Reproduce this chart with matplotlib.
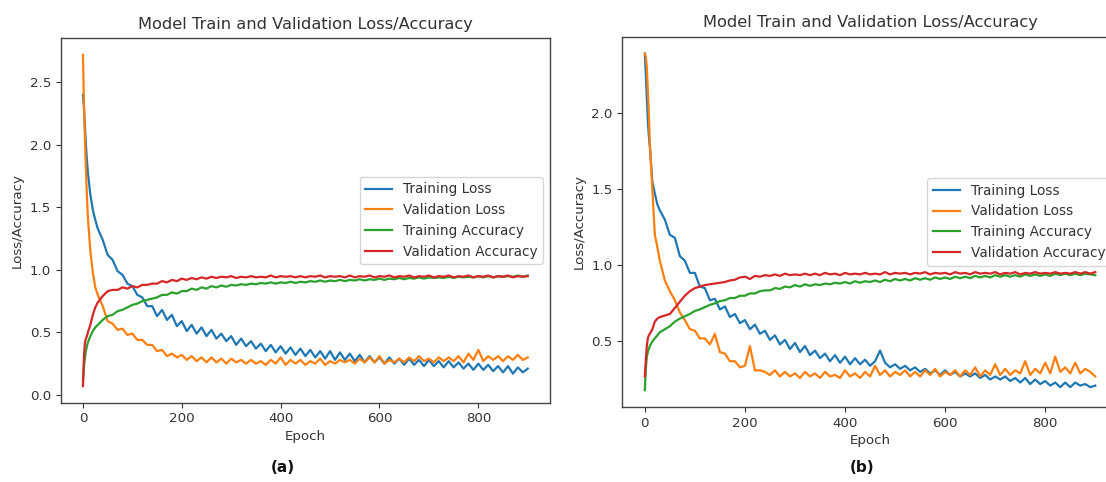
import matplotlib
matplotlib.use("Agg")
import matplotlib.pyplot as plt

# ---------------- data ----------------
epochs = [0, 2, 4, 6, 8, 10, 15, 20, 25, 30] + list(range(40, 901, 10))

a_train_loss = [2.40, 2.30, 2.15, 2.00, 1.88, 1.78, 1.60, 1.48, 1.40, 1.33,
                1.24, 1.12, 1.08, 0.99, 0.96, 0.89, 0.87, 0.80, 0.78, 0.71,
                0.71, 0.63, 0.68, 0.60, 0.64, 0.55, 0.59, 0.51, 0.56, 0.49,
                0.54, 0.47, 0.52, 0.45, 0.49, 0.43, 0.47, 0.40, 0.45, 0.39,
                0.43, 0.37, 0.41, 0.35, 0.40, 0.34, 0.39, 0.33, 0.38, 0.32,
                0.37, 0.31, 0.36, 0.30, 0.35, 0.29, 0.35, 0.28, 0.34, 0.28,
                0.33, 0.27, 0.32, 0.26, 0.31, 0.26, 0.30, 0.25, 0.30, 0.25,
                0.29, 0.24, 0.29, 0.24, 0.28, 0.23, 0.28, 0.23, 0.27, 0.22,
                0.27, 0.22, 0.26, 0.21, 0.25, 0.20, 0.25, 0.20, 0.24, 0.19,
                0.23, 0.18, 0.23, 0.17, 0.22, 0.18, 0.21]
a_val_loss = [2.72, 2.35, 2.05, 1.80, 1.60, 1.42, 1.15, 0.98, 0.86, 0.80,
              0.71, 0.59, 0.57, 0.52, 0.53, 0.48, 0.49, 0.44, 0.44, 0.40,
              0.40, 0.35, 0.36, 0.31, 0.33, 0.30, 0.32, 0.28, 0.31, 0.27,
              0.30, 0.26, 0.30, 0.26, 0.29, 0.25, 0.29, 0.26, 0.28, 0.25,
              0.28, 0.25, 0.27, 0.24, 0.28, 0.25, 0.30, 0.24, 0.28, 0.25,
              0.28, 0.24, 0.27, 0.25, 0.29, 0.24, 0.27, 0.25, 0.28, 0.26,
              0.28, 0.25, 0.29, 0.26, 0.30, 0.26, 0.31, 0.25, 0.28, 0.26,
              0.29, 0.26, 0.30, 0.27, 0.31, 0.27, 0.29, 0.26, 0.30, 0.27,
              0.30, 0.27, 0.31, 0.26, 0.33, 0.28, 0.36, 0.27, 0.31, 0.28,
              0.31, 0.27, 0.31, 0.28, 0.32, 0.28, 0.30]
a_train_acc = [0.12, 0.22, 0.30, 0.35, 0.39, 0.42, 0.47, 0.51, 0.54, 0.56,
               0.60, 0.63, 0.64, 0.67, 0.68, 0.70, 0.72, 0.73, 0.75, 0.76,
               0.77, 0.78, 0.80, 0.80, 0.82, 0.81, 0.83, 0.83, 0.85, 0.84,
               0.86, 0.85, 0.87, 0.86, 0.875, 0.865, 0.88, 0.875, 0.885, 0.88,
               0.89, 0.885, 0.895, 0.89, 0.90, 0.89, 0.90, 0.895, 0.905, 0.895,
               0.905, 0.90, 0.91, 0.905, 0.915, 0.905, 0.915, 0.91, 0.92, 0.91,
               0.92, 0.915, 0.925, 0.915, 0.925, 0.92, 0.93, 0.92, 0.93, 0.925,
               0.935, 0.925, 0.935, 0.93, 0.94, 0.93, 0.94, 0.935, 0.94, 0.935,
               0.945, 0.935, 0.945, 0.94, 0.945, 0.94, 0.95, 0.94, 0.95, 0.94,
               0.95, 0.945, 0.95, 0.945, 0.955, 0.945, 0.955]
a_val_acc = [0.07, 0.30, 0.42, 0.45, 0.47, 0.50, 0.56, 0.64, 0.70, 0.74,
             0.79, 0.83, 0.84, 0.84, 0.86, 0.85, 0.87, 0.86, 0.88, 0.88,
             0.89, 0.89, 0.91, 0.90, 0.92, 0.91, 0.93, 0.92, 0.935, 0.925,
             0.94, 0.93, 0.945, 0.935, 0.945, 0.94, 0.95, 0.935, 0.945, 0.94,
             0.95, 0.94, 0.945, 0.94, 0.955, 0.94, 0.95, 0.945, 0.95, 0.94,
             0.95, 0.94, 0.95, 0.945, 0.955, 0.94, 0.95, 0.945, 0.95, 0.94,
             0.955, 0.94, 0.95, 0.945, 0.955, 0.94, 0.95, 0.945, 0.955, 0.94,
             0.95, 0.945, 0.955, 0.94, 0.95, 0.945, 0.955, 0.94, 0.95, 0.945,
             0.955, 0.94, 0.95, 0.945, 0.955, 0.94, 0.95, 0.945, 0.955, 0.94,
             0.95, 0.945, 0.955, 0.94, 0.95, 0.945, 0.95]

b_train_loss = [2.39, 2.25, 2.10, 1.95, 1.85, 1.78, 1.55, 1.47, 1.40, 1.36,
                1.30, 1.20, 1.18, 1.06, 1.03, 0.95, 0.95, 0.86, 0.85, 0.77,
                0.78, 0.71, 0.73, 0.66, 0.68, 0.62, 0.64, 0.58, 0.61, 0.55,
                0.57, 0.51, 0.54, 0.48, 0.51, 0.45, 0.49, 0.43, 0.47, 0.41,
                0.44, 0.39, 0.42, 0.37, 0.41, 0.36, 0.40, 0.35, 0.39, 0.35,
                0.38, 0.34, 0.37, 0.44, 0.36, 0.33, 0.35, 0.32, 0.34, 0.31,
                0.33, 0.30, 0.32, 0.29, 0.31, 0.28, 0.31, 0.28, 0.30, 0.27,
                0.29, 0.27, 0.29, 0.26, 0.28, 0.25, 0.27, 0.25, 0.27, 0.24,
                0.26, 0.23, 0.26, 0.22, 0.25, 0.22, 0.24, 0.21, 0.23, 0.20,
                0.23, 0.20, 0.23, 0.21, 0.22, 0.20, 0.21]
b_val_loss = [2.39, 2.37, 2.30, 2.15, 2.00, 1.80, 1.50, 1.20, 1.12, 1.03,
              0.90, 0.83, 0.77, 0.69, 0.64, 0.58, 0.57, 0.52, 0.52, 0.48,
              0.55, 0.43, 0.42, 0.37, 0.37, 0.33, 0.34, 0.47, 0.31, 0.31,
              0.30, 0.28, 0.31, 0.27, 0.30, 0.27, 0.29, 0.26, 0.30, 0.27,
              0.29, 0.26, 0.30, 0.27, 0.28, 0.26, 0.31, 0.27, 0.29, 0.26,
              0.30, 0.27, 0.34, 0.28, 0.31, 0.27, 0.30, 0.28, 0.31, 0.27,
              0.30, 0.27, 0.31, 0.28, 0.32, 0.27, 0.30, 0.28, 0.31, 0.27,
              0.31, 0.28, 0.33, 0.27, 0.31, 0.28, 0.35, 0.28, 0.32, 0.28,
              0.31, 0.29, 0.37, 0.28, 0.32, 0.29, 0.36, 0.29, 0.40, 0.30,
              0.33, 0.29, 0.36, 0.29, 0.32, 0.30, 0.27]
b_train_acc = [0.18, 0.32, 0.40, 0.43, 0.45, 0.47, 0.50, 0.52, 0.54, 0.56,
               0.58, 0.60, 0.63, 0.65, 0.665, 0.68, 0.70, 0.71, 0.725, 0.74,
               0.75, 0.765, 0.77, 0.785, 0.785, 0.80, 0.80, 0.815, 0.815, 0.83,
               0.835, 0.835, 0.85, 0.845, 0.86, 0.855, 0.87, 0.86, 0.875, 0.865,
               0.875, 0.87, 0.88, 0.875, 0.885, 0.88, 0.89, 0.88, 0.895, 0.885,
               0.895, 0.89, 0.90, 0.89, 0.905, 0.895, 0.91, 0.90, 0.91, 0.90,
               0.915, 0.905, 0.915, 0.905, 0.92, 0.91, 0.92, 0.91, 0.925, 0.915,
               0.925, 0.915, 0.93, 0.92, 0.93, 0.92, 0.935, 0.925, 0.935, 0.925,
               0.935, 0.925, 0.94, 0.93, 0.94, 0.93, 0.94, 0.93, 0.945, 0.935,
               0.945, 0.935, 0.945, 0.935, 0.945, 0.94, 0.935]
b_val_acc = [0.27, 0.38, 0.47, 0.52, 0.54, 0.55, 0.58, 0.63, 0.65, 0.66,
             0.67, 0.68, 0.72, 0.76, 0.80, 0.83, 0.85, 0.86, 0.87, 0.875,
             0.88, 0.885, 0.89, 0.90, 0.905, 0.92, 0.925, 0.91, 0.93, 0.925,
             0.935, 0.93, 0.94, 0.93, 0.945, 0.935, 0.94, 0.935, 0.945, 0.935,
             0.945, 0.935, 0.95, 0.94, 0.945, 0.935, 0.95, 0.94, 0.945, 0.94,
             0.95, 0.94, 0.945, 0.94, 0.955, 0.94, 0.95, 0.945, 0.95, 0.94,
             0.95, 0.945, 0.955, 0.94, 0.95, 0.945, 0.95, 0.94, 0.955, 0.945,
             0.95, 0.94, 0.955, 0.945, 0.95, 0.945, 0.955, 0.94, 0.95, 0.945,
             0.955, 0.94, 0.95, 0.945, 0.955, 0.945, 0.95, 0.945, 0.955, 0.945,
             0.95, 0.945, 0.955, 0.945, 0.955, 0.945, 0.955]

series_labels = ["Training Loss", "Validation Loss", "Training Accuracy", "Validation Accuracy"]
title_text = "Model Train and Validation Loss/Accuracy"
x_label = "Epoch"
y_label = "Loss/Accuracy"
panel_labels = ["(a)", "(b)"]

# ---------------- style ----------------
TXT = "#333333"
plt.rcParams.update({
    "font.family": "DejaVu Sans",
    "text.color": TXT,
    "axes.labelcolor": TXT,
    "xtick.color": TXT,
    "ytick.color": TXT,
    "axes.edgecolor": "#444444",
})
colors = ["#1f77b4", "#ff7f0e", "#2ca02c", "#d62728"]

W, H = 1106, 482
fig = plt.figure(figsize=(W / 100, H / 100), dpi=100)

ax_a = fig.add_axes([60.7 / W, (H - 402.7) / H, 489.3 / W, 364.4 / H])
ax_b = fig.add_axes([622.3 / W, (H - 407.0) / H, 495.5 / W, 370.3 / H])

panels = [
    (ax_a, [a_train_loss, a_val_loss, a_train_acc, a_val_acc]),
    (ax_b, [b_train_loss, b_val_loss, b_train_acc, b_val_acc]),
]

for ax, data in panels:
    for vals, lab, c in zip(data, series_labels, colors):
        ax.plot(epochs, vals, color=c, lw=1.6, label=lab)
    ax.set_title(title_text, fontsize=11.7, color=TXT, pad=7)
    ax.set_xlabel(x_label, fontsize=9.6, labelpad=3)
    ax.set_ylabel(y_label, fontsize=9.6, labelpad=4)
    ax.tick_params(labelsize=9.6, length=3.5, width=0.8)
    ax.set_xticks([0, 200, 400, 600, 800])
    for s in ax.spines.values():
        s.set_linewidth(1.0)
    leg = ax.legend(loc="center right", fontsize=9.8, frameon=True,
                    borderaxespad=0.5, handlelength=2.0, labelcolor=TXT)
    for line in leg.get_lines():
        line.set_linewidth(1.6)

ax_a.set_yticks([0.0, 0.5, 1.0, 1.5, 2.0, 2.5])
ax_b.set_yticks([0.5, 1.0, 1.5, 2.0])

fig.text(283 / W, 1 - 467 / H, panel_labels[0], ha="center", va="center",
         fontsize=11, fontweight="bold", color="#111111")
fig.text(862 / W, 1 - 467 / H, panel_labels[1], ha="center", va="center",
         fontsize=11, fontweight="bold", color="#111111")

fig.savefig("out.png", dpi=100)
